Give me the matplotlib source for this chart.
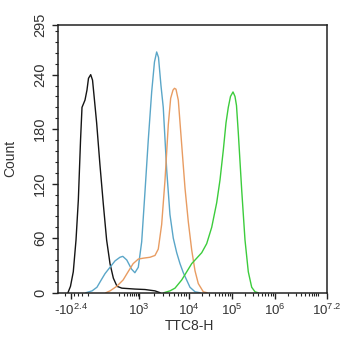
import numpy as np
import matplotlib
matplotlib.use("Agg")
import matplotlib.pyplot as plt
from matplotlib.ticker import FixedLocator, MultipleLocator
from matplotlib.transforms import ScaledTranslation

plt.rcParams["font.family"] = ["Liberation Sans", "DejaVu Sans"]

# histogram traces: intensity (TTC8-H) and count
black_x = [-320, -262, -211, -170, -140, -115, -100, -75, -60, -49, -34, -22, -13, 4, 25,
           48, 72, 100, 132, 174, 255, 724, 1320, 2100, 2646]
black_y = [0, 7, 23, 58, 102, 168, 204, 212, 223, 236, 240, 234, 218, 187, 141,
           97, 58, 32, 16, 7, 5, 4, 3.5, 2, 0]

blue_x = [-67, -25, 6, 37, 60, 100, 150, 217, 276, 381, 556, 724, 946, 1133, 1320,
          1538, 1801, 2050, 2270, 2470, 2770, 3080, 3610, 4200, 4900, 5740, 6680,
          7790, 10700, 14000, 18200]
blue_y = [0, 2, 6, 15, 21, 28, 35, 39, 40, 36, 26, 22, 28, 56, 111,
          168, 221, 254, 265, 259, 228, 204, 135, 86, 60, 44, 32,
          22, 6, 1, 0]

orange_x = [67, 100, 170, 283, 423, 632, 946, 1220, 1665, 2100, 2445, 2860, 3340,
            3890, 4340, 4830, 5180, 5550, 6180, 7230, 8430, 9820, 11730, 14000,
            16660, 21740, 26470]
orange_y = [0, 2, 7, 14, 23, 32, 37, 38, 39, 41, 48, 75, 124,
            185, 214, 223, 225, 224, 212, 163, 115, 78, 47, 24,
            10, 1, 0]

green_x = [3180, 4200, 5300, 7230, 9120, 11730, 15310, 19970, 26040, 34000, 44300,
           52800, 63000, 72700, 82100, 92300, 105500, 117400, 127200, 140100,
           168100, 200600, 239300, 287100, 342700, 402500]
green_y = [0, 2, 5, 14, 23, 32, 38, 44, 54, 72, 99,
           124, 157, 187, 204, 216, 221, 216, 206, 176,
           113, 58, 23, 6, 1, 0]

x_ticks = [-10 ** 2.4, 1e3, 1e4, 1e5, 1e6, 10 ** 7.2]
x_labels = [r"-$\mathregular{10^{2.4}}$", r"$\mathregular{10^{3}}$", r"$\mathregular{10^{4}}$",
            r"$\mathregular{10^{5}}$", r"$\mathregular{10^{6}}$", r"$\mathregular{10^{7.2}}$"]
y_ticks = [0, 60, 120, 180, 240, 295]

# biexponential-like display axis
anchor_vals = np.array([-1000, -10 ** 2.4, -100, 0, 100, 200, 1e3, 1e4, 1e5, 1e6, 10 ** 7.2, 1e8])
anchor_pos = np.array([53, 71, 82, 96, 110, 119, 139, 188.7, 232, 275, 327, 361.6])
anchor_t = np.arcsinh(anchor_vals / 100)


def forward(x):
    return np.interp(np.arcsinh(np.asarray(x, dtype=float) / 100), anchor_t, anchor_pos)


def inverse(p):
    return 100 * np.sinh(np.interp(np.asarray(p, dtype=float), anchor_pos, anchor_t))


def main():
    fig = plt.figure(figsize=(3.45, 3.5), dpi=100)
    ax = fig.add_axes([58 / 345, 1 - 292.7 / 350, 269 / 345, 268 / 350])
    ax.set_xscale("function", functions=(forward, inverse))

    ax.plot(black_x, black_y, color="#151515", lw=1.0)
    ax.plot(blue_x, blue_y, color="#5aa6c8", lw=1.0)
    ax.plot(orange_x, orange_y, color="#e89c62", lw=1.0)
    ax.plot(green_x, green_y, color="#3ccc3c", lw=1.0)

    ax.set_xlim(float(inverse(58)), 10 ** 7.2)
    ax.set_ylim(0, 295)

    minor = [-400, -200, -150, -100, -50]
    for k in range(2, 7):
        minor += [m * 10 ** k for m in range(2, 10)]
    minor += [1e7]
    ax.xaxis.set_major_locator(FixedLocator(x_ticks))
    ax.xaxis.set_minor_locator(FixedLocator(minor))
    ax.set_xticklabels(x_labels)
    offsets = [-3, -7, -7, -6, -6, -6]
    for lab, off in zip(ax.get_xticklabels(), offsets):
        lab.set_transform(lab.get_transform() + ScaledTranslation(off / 100, 0, fig.dpi_scale_trans))

    ax.yaxis.set_major_locator(FixedLocator(y_ticks))
    ax.yaxis.set_minor_locator(MultipleLocator(12))
    ax.set_yticklabels([str(v) for v in y_ticks], rotation=90, va="center")

    ax.tick_params(which="major", direction="out", length=4, width=1, colors="#222222",
                   labelcolor="#333333")
    ax.tick_params(which="minor", direction="out", length=2, width=0.8, colors="#222222")
    ax.tick_params(axis="x", labelsize=9.5)
    ax.tick_params(axis="y", labelsize=10.5, pad=4)
    for s in ax.spines.values():
        s.set_color("#222222")
        s.set_linewidth(1.1)

    ax.set_ylabel("Count", fontsize=10, color="#333333")
    ax.set_xlabel("TTC8-H", fontsize=10, color="#333333")
    ax.yaxis.set_label_coords(-0.15, 0.5)
    ax.xaxis.set_label_coords(0.49, -0.1)

    fig.savefig("out.png", dpi=100, facecolor="white")


if __name__ == "__main__":
    main()
